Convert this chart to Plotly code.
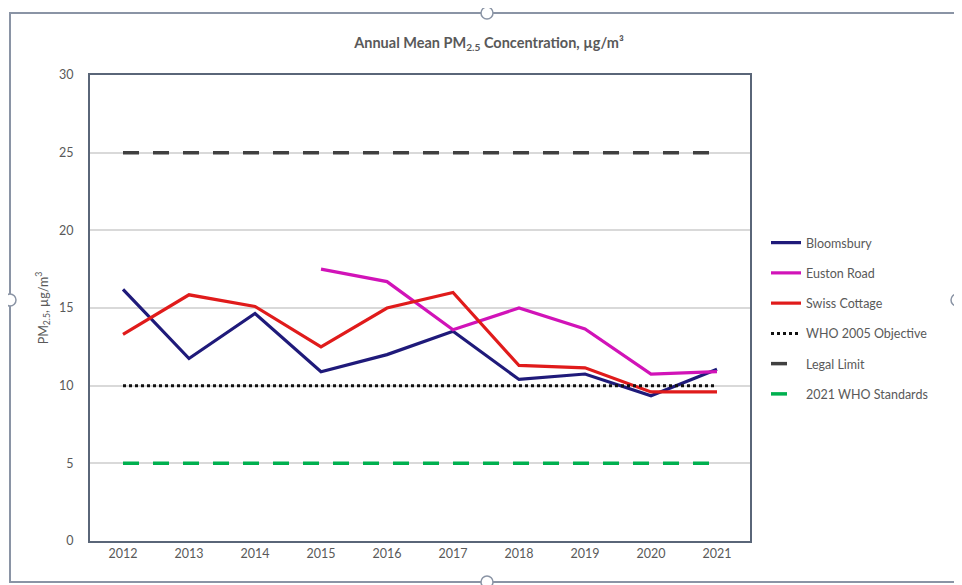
import plotly.graph_objects as go

years = ["2012", "2013", "2014", "2015", "2016", "2017", "2018", "2019", "2020", "2021"]
bloomsbury = [16.2, 11.75, 14.65, 10.9, 12.0, 13.5, 10.4, 10.75, 9.35, 11.05]
euston_road = [None, None, None, 17.5, 16.7, 13.6, 15.0, 13.65, 10.75, 10.9]
swiss_cottage = [13.3, 15.85, 15.1, 12.5, 15.0, 16.0, 11.3, 11.15, 9.6, 9.6]
who_2005 = [10] * 10
legal_limit = [25] * 10
who_2021 = [5] * 10
y_ticks = [0, 5, 10, 15, 20, 25, 30]

FONT = "Lato, 'Liberation Sans', sans-serif"
GREY = "#595959"
OFF = 8  # page body margin of the browser
W, H = 962 - OFF, 585 - OFF

fig = go.Figure()

def add(name, y, color, dash=None, width=3.2):
    fig.add_trace(go.Scatter(
        x=years, y=y, name=name, mode="lines",
        line=dict(color=color, width=width, dash=dash),
        legendgroup=name, connectgaps=False, hoverinfo="skip"))

add("Bloomsbury", bloomsbury, "#1f1a7a")
add("Euston Road", euston_road, "#d113b8")
add("Swiss Cottage", swiss_cottage, "#e01b1b")
add("WHO 2005 Objective", who_2005, "#111111", dash="dot", width=3)
add("Legal Limit", legal_limit, "#404040", dash="16px,14px", width=3.5)
add("2021 WHO Standards", who_2021, "#00b04f", dash="16px,14px", width=3.5)

# reference-pixel geometry (screen coords), converted to figure coords
L, R, T, B = 90 - OFF, 750 - OFF, 75 - OFF, 541 - OFF
def px(x): return ((x - OFF) - L) / (R - L)
def py(y): return (B - (y - OFF)) / (B - T)

shapes = [dict(type="rect", xref="paper", yref="paper",
               x0=px(10), x1=px(957), y0=py(582), y1=py(13),
               line=dict(color="#8a94a5", width=2), fillcolor="rgba(0,0,0,0)", layer="below")]
for cx, cy in [(487, 13), (10, 300), (957, 300), (487, 582)]:
    shapes.append(dict(type="circle", xref="paper", yref="paper",
                       x0=px(cx - 6), x1=px(cx + 6), y0=py(cy + 6), y1=py(cy - 6),
                       line=dict(color="#8a94a5", width=1.5), fillcolor="white"))

fig.update_layout(
    width=W, height=H,
    margin=dict(l=L, r=W - R, t=T, b=H - B),
    paper_bgcolor="white", plot_bgcolor="white",
    font=dict(family=FONT, color=GREY, size=12),
    title=dict(text="<b>Annual Mean PM<sub>2.5</sub> Concentration, µg/m³</b>",
               x=(489 - OFF) / W, xref="container", xanchor="center",
               y=1 - (43 - OFF) / H, yref="container", yanchor="middle",
               font=dict(family=FONT, size=14.5, color=GREY)),
    xaxis=dict(type="category", range=[-0.5, 9.5], showgrid=False,
               showline=True, linecolor="#5a6678", linewidth=2, mirror=True,
               ticks="", tickfont=dict(size=12.5, color=GREY)),
    yaxis=dict(range=[0, 30], tickvals=y_ticks, showgrid=True, gridcolor="#d9d9d9",
               gridwidth=1.5, zeroline=False,
               showline=True, linecolor="#5a6678", linewidth=2, mirror=True,
               ticks="", ticklabelstandoff=12, tickfont=dict(size=12.5, color=GREY),
               title=dict(text="PM<sub>2.5</sub>, µg/m<sup>3</sup>", standoff=8,
                          font=dict(size=12.5, color=GREY))),
    legend=dict(x=px(766), y=py(228), xanchor="left", yanchor="top",
                tracegroupgap=11, font=dict(size=12.5, color=GREY),
                bgcolor="rgba(0,0,0,0)"),
    shapes=shapes,
    showlegend=True,
)

fig.write_html("out.html")
